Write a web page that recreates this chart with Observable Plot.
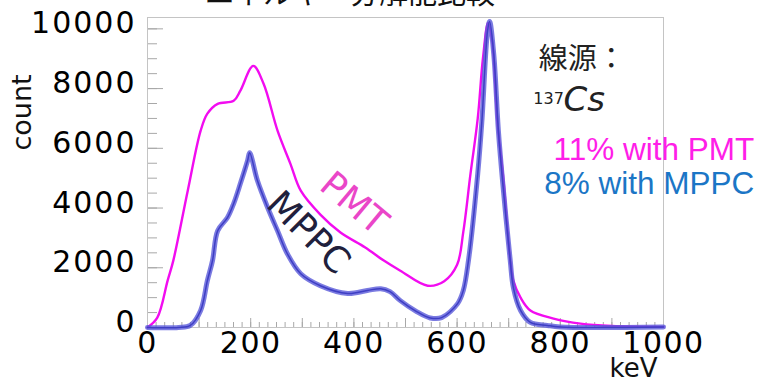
<!DOCTYPE html>
<html><head><meta charset="utf-8">
<script src="https://cdn.jsdelivr.net/npm/d3@7"></script>
<script src="https://cdn.jsdelivr.net/npm/@observablehq/plot@0.6"></script>
<style>
body{margin:0;background:#fff;width:760px;height:381px;overflow:hidden;position:relative;}
#title{position:absolute;left:0;width:700px;top:-30px;text-align:center;font:29px "Noto Sans CJK JP";color:#111;white-space:nowrap;}
#chart{position:absolute;left:0;top:0;}
g[aria-label="y-axis tick label"]{letter-spacing:2px;}
g[aria-label="x-axis tick label"]{letter-spacing:1.5px;}
</style></head><body>
<div id="chart"></div>
<div id="title">エネルギー分解能比較</div>
<script>
const pmtKeV   = [0, 19, 39, 50, 78, 103, 116, 136, 167, 180, 205, 225, 252, 277, 297, 335, 374, 422, 458, 490, 543, 575, 600, 612, 626, 640, 650, 660, 668, 678, 690, 703, 709, 723, 742, 787, 839, 900, 1000];
const pmtCount = [0, 330, 1570, 2240, 4580, 6590, 7160, 7490, 7590, 7930, 8760, 8160, 6590, 5480, 4580, 3780, 3180, 2680, 2240, 1900, 1400, 1550, 2100, 3200, 5150, 7000, 9000, 10200, 9600, 6900, 4920, 2240, 1570, 1000, 570, 300, 130, 50, 20];
const mppcKeV   = [0, 60, 83, 103, 116, 126, 136, 155, 167, 180, 194, 198, 213, 233, 252, 271, 297, 335, 388, 426, 452, 470, 490, 520, 548, 570, 601, 612, 622, 640, 648, 659, 663, 671, 680, 688, 703, 709, 723, 742, 775, 800, 1000];
const mppcCount = [0, 0, 70, 570, 1570, 2240, 3240, 3680, 4150, 4820, 5590, 5850, 4920, 4010, 3240, 2470, 1800, 1400, 1140, 1240, 1300, 1200, 900, 550, 320, 330, 800, 1240, 2240, 5150, 6900, 9930, 10250, 9160, 6590, 4920, 2240, 1340, 570, 170, 70, 20, 20];
const xTickLabels = [0, 200, 400, 600, 800, 1000];
const yTickLabels = [0, 2000, 4000, 6000, 8000, 10000];
const xMajorTicks = [0, 100, 200, 300, 400, 500, 600, 700, 800, 900, 1000];
const yMajorTicks = [0, 2000, 4000, 6000, 8000, 10000];
const seriesNames = ["PMT", "MPPC"];
const resolutionTexts = ["11% with PMT", "8% with MPPC"];

const pmt = pmtKeV.map((k, i) => ({keV: k, count: pmtCount[i]}));
const mppc = mppcKeV.map((k, i) => ({keV: k, count: mppcCount[i]}));
const xMinorTicks = d3.range(0, 1000.001, 100 / 6);
const yMinorTicks = d3.range(0, 10001, 500);

const tickColor = "#a8a8a8";
const font = "DejaVu Sans";

const chart = Plot.plot({
  width: 760, height: 381,
  marginLeft: 147, marginRight: 97, marginTop: 17, marginBottom: 54,
  x: {domain: [0, 1000]},
  y: {domain: [0, 10380]},
  style: {fontFamily: font, background: "transparent", overflow: "visible", color: "#000"},
  marks: [
    Plot.axisY({ticks: yMinorTicks, tickSize: -10, fill: "none", stroke: tickColor}),
    Plot.axisY({ticks: yMajorTicks, tickSize: -16, fill: "none", stroke: tickColor}),
    Plot.axisX({ticks: xMinorTicks, tickSize: -5, fill: "none", stroke: tickColor}),
    Plot.axisX({ticks: xMajorTicks, tickSize: -9, fill: "none", stroke: tickColor}),
    Plot.axisY({ticks: yTickLabels, tickSize: 0, tickPadding: 11, fontSize: 30, fontFamily: font, dy: -5, label: null, tickFormat: d => String(d), fill: "#000"}),
    Plot.axisX({ticks: xTickLabels, tickSize: 0, tickPadding: 4, fontSize: 30, fontFamily: font, label: null, tickFormat: d => String(d), fill: "#000"}),
    Plot.frame({stroke: "#c4c4c4"}),
    Plot.line(pmt, {x: "keV", y: "count", stroke: "#f20cf0", strokeWidth: 2.4, curve: "catmull-rom"}),
    Plot.line(mppc, {x: "keV", y: "count", stroke: "#5a5ada", strokeWidth: 5, strokeOpacity: 0.8, curve: "catmull-rom"}),
    Plot.line(mppc, {x: "keV", y: "count", stroke: "#3e3ec4", strokeWidth: 1.5, curve: "catmull-rom"}),
    Plot.text([seriesNames[0]], {x: 400, y: 4150, text: d => d, rotate: 40, fill: "#ea46c8", fontSize: 36, fontFamily: font}),
    Plot.text([seriesNames[1]], {x: 312, y: 3170, text: d => d, rotate: 45, fill: "#20203c", fontSize: 36, fontFamily: font}),
    Plot.text(["線源："], {x: 758, y: 8960, text: d => d, textAnchor: "start", fill: "#222", fontSize: 29, fontFamily: "Noto Sans CJK JP"}),
    Plot.text(["137"], {x: 807, y: 7650, text: d => d, textAnchor: "end", fill: "#222", fontSize: 16, fontFamily: font}),
    Plot.text(["Cs"], {x: 806, y: 7600, text: d => d, textAnchor: "start", fill: "#222", fontSize: 34, fontStyle: "italic", fontFamily: font}),
    Plot.text([resolutionTexts[0]], {x: 1176, y: 5930, text: d => d, textAnchor: "end", fill: "#ff1ee8", fontSize: 31.5, fontFamily: "Liberation Sans"}),
    Plot.text([resolutionTexts[1]], {x: 1176, y: 4820, text: d => d, textAnchor: "end", fill: "#1b76c6", fontSize: 31.5, fontFamily: "Liberation Sans"}),
    Plot.text(["count"], {frameAnchor: "left", textAnchor: "middle", lineAnchor: "middle", dx: -125, dy: -60, rotate: -90, text: d => d, fontSize: 27, fontFamily: font, fill: "#111"}),
    Plot.text(["keV"], {frameAnchor: "bottom-right", textAnchor: "middle", lineAnchor: "middle", dx: -30, dy: 41, text: d => d, fontSize: 26, fontFamily: font, fill: "#111"})
  ]
});
document.getElementById("chart").appendChild(chart);
</script>
</body></html>
